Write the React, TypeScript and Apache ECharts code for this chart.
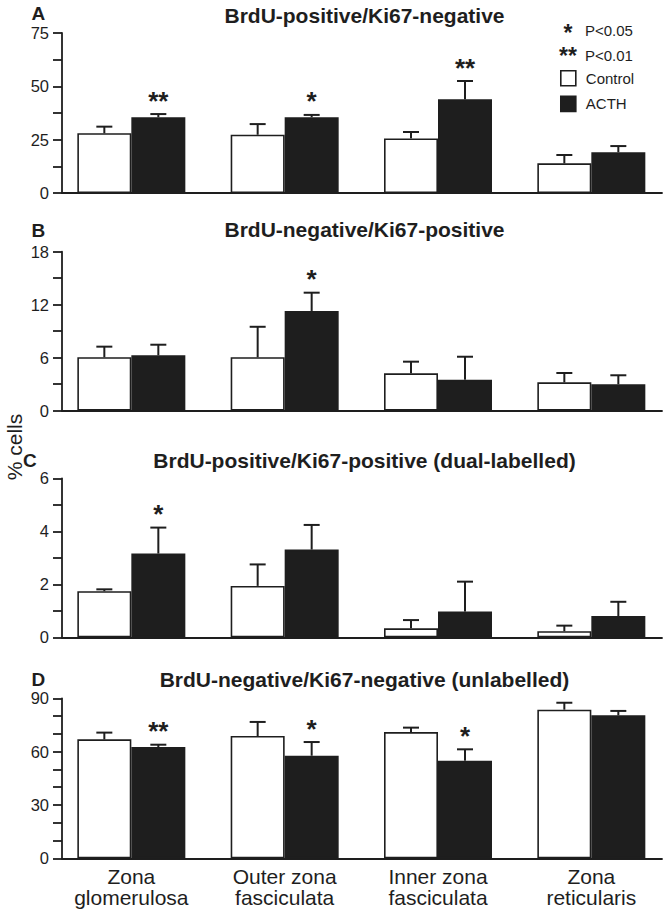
import React, { useEffect, useRef } from 'react';
import * as echarts from 'echarts';

// ---------- data ----------
const categories = ['Zona\nglomerulosa', 'Outer zona\nfasciculata', 'Inner zona\nfasciculata', 'Zona\nreticularis'];
const seriesNames = ['Control', 'ACTH'];
const panelLetters = ['A', 'B', 'C', 'D'];
const panelTitles = [
  'BrdU-positive/Ki67-negative',
  'BrdU-negative/Ki67-positive',
  'BrdU-positive/Ki67-positive (dual-labelled)',
  'BrdU-negative/Ki67-negative (unlabelled)',
];
const yMaxes = [75, 18, 6, 90];
const yTickSteps = [12.5, 3, 1, 10];
const yLabelSteps = [25, 6, 2, 30];

// Panel A
const aControl = [28.0, 27.3, 25.6, 13.9];
const aControlSem = [3.1, 5.0, 3.0, 3.9];
const aActh = [35.5, 35.5, 43.9, 19.1];
const aActhSem = [1.5, 1.1, 8.6, 2.9];
const aSig = ['**', '*', '**', ''];
// Panel B
const bControl = [6.05, 6.05, 4.23, 3.21];
const bControlSem = [1.2, 3.45, 1.32, 1.06];
const bActh = [6.27, 11.29, 3.51, 2.99];
const bActhSem = [1.2, 2.07, 2.6, 1.02];
const bSig = ['', '*', '', ''];
// Panel C
const cControl = [1.74, 1.94, 0.34, 0.23];
const cControlSem = [0.07, 0.81, 0.31, 0.21];
const cActh = [3.16, 3.31, 0.97, 0.8];
const cActhSem = [0.98, 0.93, 1.13, 0.54];
const cSig = ['*', '', '', ''];
// Panel D
const dControl = [66.9, 68.8, 71.0, 83.6];
const dControlSem = [3.8, 7.9, 2.5, 3.9];
const dActh = [62.6, 57.7, 54.9, 80.4];
const dActhSem = [1.3, 7.7, 6.4, 2.5];
const dSig = ['**', '*', '*', ''];

const legendSig = ['*', '**'];
const legendSigText = ['P<0.05', 'P<0.01'];

const panelsData = [
  { control: aControl, controlSem: aControlSem, acth: aActh, acthSem: aActhSem, sig: aSig },
  { control: bControl, controlSem: bControlSem, acth: bActh, acthSem: bActhSem, sig: bSig },
  { control: cControl, controlSem: cControlSem, acth: cActh, acthSem: cActhSem, sig: cSig },
  { control: dControl, controlSem: dControlSem, acth: dActh, acthSem: dActhSem, sig: dSig },
];

// ---------- layout ----------
const FONT = '"Liberation Sans", Arial, Helvetica, sans-serif';
const INK = '#1e1e1e';
const panelTops = [33, 251.7, 478.3, 698.3];
const panelHeights = [160, 159, 159, 160];
const titleMidY = [15.2, 229.7, 460.3, 679];
const letterMidY = [13, 230, 460.6, 679.3];
const letterX = [31.5, 31.5, 23, 31.5];
const AXIS_LEFT = 62;
const AXIS_WIDTH = 600;
const BAR_LEFT = 54.67;
const BAR_WIDTH_GRID = 618.67;
const BAR_W = 54;

function buildOption() {
  const grid: any[] = [];
  const xAxis: any[] = [];
  const yAxis: any[] = [];
  const series: any[] = [];
  const graphic: any[] = [];

  panelsData.forEach((pd, i) => {
    const top = panelTops[i];
    const height = panelHeights[i];
    const axisIdx = 2 * i;
    const barIdx = 2 * i + 1;
    grid.push({ left: AXIS_LEFT, width: AXIS_WIDTH, top, height });
    grid.push({ left: BAR_LEFT, width: BAR_WIDTH_GRID, top, height });

    xAxis.push({
      type: 'value', gridIndex: axisIdx, min: 0, max: 1,
      axisLine: { show: true, onZero: false, lineStyle: { color: INK, width: 1.8 } },
      axisTick: { show: false }, axisLabel: { show: false }, splitLine: { show: false },
    });
    xAxis.push({
      type: 'category', gridIndex: barIdx, data: categories,
      axisLine: { show: false }, axisTick: { show: false },
      axisLabel: {
        show: i === 3, interval: 0, fontSize: 21, lineHeight: 21, color: INK,
        fontFamily: FONT, margin: 8,
      },
    });
    const lstep = yLabelSteps[i];
    yAxis.push({
      type: 'value', gridIndex: axisIdx, min: 0, max: yMaxes[i], interval: yTickSteps[i],
      axisLine: { show: true, lineStyle: { color: INK, width: 1.8 } },
      axisTick: { show: true, length: 9, lineStyle: { color: INK, width: 1.8 } },
      axisLabel: {
        fontSize: 16.5, lineHeight: 15, color: INK, fontFamily: FONT, margin: 13,
        formatter: (v: number) => (Math.abs(v / lstep - Math.round(v / lstep)) < 1e-6 ? String(v) : ''),
      },
      splitLine: { show: false },
    });
    yAxis.push({ type: 'value', gridIndex: barIdx, min: 0, max: yMaxes[i], show: false });

    const groups = [
      { name: seriesNames[0], vals: pd.control, sems: pd.controlSem, fill: '#ffffff', off: -BAR_W / 2, sig: null as any },
      { name: seriesNames[1], vals: pd.acth, sems: pd.acthSem, fill: INK, off: BAR_W / 2, sig: pd.sig },
    ];
    groups.forEach((g) => {
      series.push({
        type: 'bar', name: g.name, xAxisIndex: barIdx, yAxisIndex: barIdx,
        data: g.vals, barWidth: BAR_W, barGap: '0%',
        itemStyle: { color: g.fill, borderColor: INK, borderWidth: 1.6 },
        z: 2,
      });
    });
    groups.forEach((g) => {
      series.push({
        type: 'custom', name: g.name + ' error', xAxisIndex: barIdx, yAxisIndex: barIdx,
        clip: false, z: 3,
        data: g.vals.map((v, j) => [j, v, g.sems[j]]),
        encode: { x: 0, y: 1 },
        renderItem: (params: any, api: any) => {
          const j = api.value(0);
          const v = api.value(1);
          const e = api.value(2);
          const base = api.coord([j, v]);
          const tp = api.coord([j, v + e]);
          const x = base[0] + g.off;
          const children: any[] = [
            { type: 'line', shape: { x1: x, y1: base[1], x2: x, y2: tp[1] }, style: { stroke: INK, lineWidth: 2 } },
            { type: 'line', shape: { x1: x - 8, y1: tp[1], x2: x + 8, y2: tp[1] }, style: { stroke: INK, lineWidth: 2 } },
          ];
          const s = g.sig ? g.sig[params.dataIndex] : '';
          if (s) {
            children.push({
              type: 'text', x, y: tp[1] - 13.5,
              style: {
                text: s, fill: INK, font: `bold 26px ${FONT}`, lineHeight: 18,
                align: 'center', verticalAlign: 'middle', textAlign: 'center', textVerticalAlign: 'middle',
              },
            });
          }
          return { type: 'group', children };
        },
      });
    });

    graphic.push({
      type: 'text', x: 364.5, y: titleMidY[i],
      style: {
        text: panelTitles[i], fill: INK, font: `bold 21px ${FONT}`, lineHeight: 20,
        align: 'center', verticalAlign: 'middle', textAlign: 'center', textVerticalAlign: 'middle',
      },
    });
    graphic.push({
      type: 'text', x: letterX[i], y: letterMidY[i],
      style: {
        text: panelLetters[i], fill: INK, font: `bold 19px ${FONT}`, lineHeight: 16,
        align: 'left', verticalAlign: 'middle', textAlign: 'left', textVerticalAlign: 'middle',
      },
    });
  });

  graphic.push({
    type: 'text', x: 14, y: 447, rotation: Math.PI / 2,
    style: {
      text: '% cells', fill: INK, font: `21px ${FONT}`, lineHeight: 18,
      align: 'center', verticalAlign: 'middle', textAlign: 'center', textVerticalAlign: 'middle',
    },
  });

  const legendStarY = [32.5, 56];
  const legendTextY = [30, 55];
  legendSig.forEach((s, k) => {
    graphic.push({
      type: 'text', x: 568, y: legendStarY[k],
      style: {
        text: s, fill: INK, font: `bold 23px ${FONT}`, lineHeight: 14,
        align: 'center', verticalAlign: 'middle', textAlign: 'center', textVerticalAlign: 'middle',
      },
    });
    graphic.push({
      type: 'text', x: 585, y: legendTextY[k],
      style: {
        text: legendSigText[k], fill: INK, font: `15px ${FONT}`, lineHeight: 16,
        align: 'left', verticalAlign: 'middle', textAlign: 'left', textVerticalAlign: 'middle',
      },
    });
  });

  return {
    animation: false,
    backgroundColor: '#ffffff',
    grid, xAxis, yAxis, series, graphic,
    legend: {
      orient: 'vertical', left: 555, top: 65, itemWidth: 15, itemHeight: 15, itemGap: 9,
      icon: 'rect', selectedMode: false,
      textStyle: { fontSize: 15, color: INK, fontFamily: FONT, padding: [0, 0, 0, 5] },
      data: [
        { name: 'Control', itemStyle: { color: '#ffffff', borderColor: INK, borderWidth: 1.6 } },
        { name: 'ACTH', itemStyle: { color: INK, borderColor: INK, borderWidth: 1.6 } },
      ],
    },
  };
}

export default function App() {
  const ref = useRef<HTMLDivElement>(null);
  useEffect(() => {
    if (!ref.current) return;
    const chart = echarts.init(ref.current, null, { renderer: 'svg' });
    chart.setOption(buildOption() as any);
    return () => chart.dispose();
  }, []);
  return (
    <div
      ref={ref}
      style={{ position: 'absolute', left: 0, top: 0, width: 668, height: 918, background: '#fff' }}
    />
  );
}
